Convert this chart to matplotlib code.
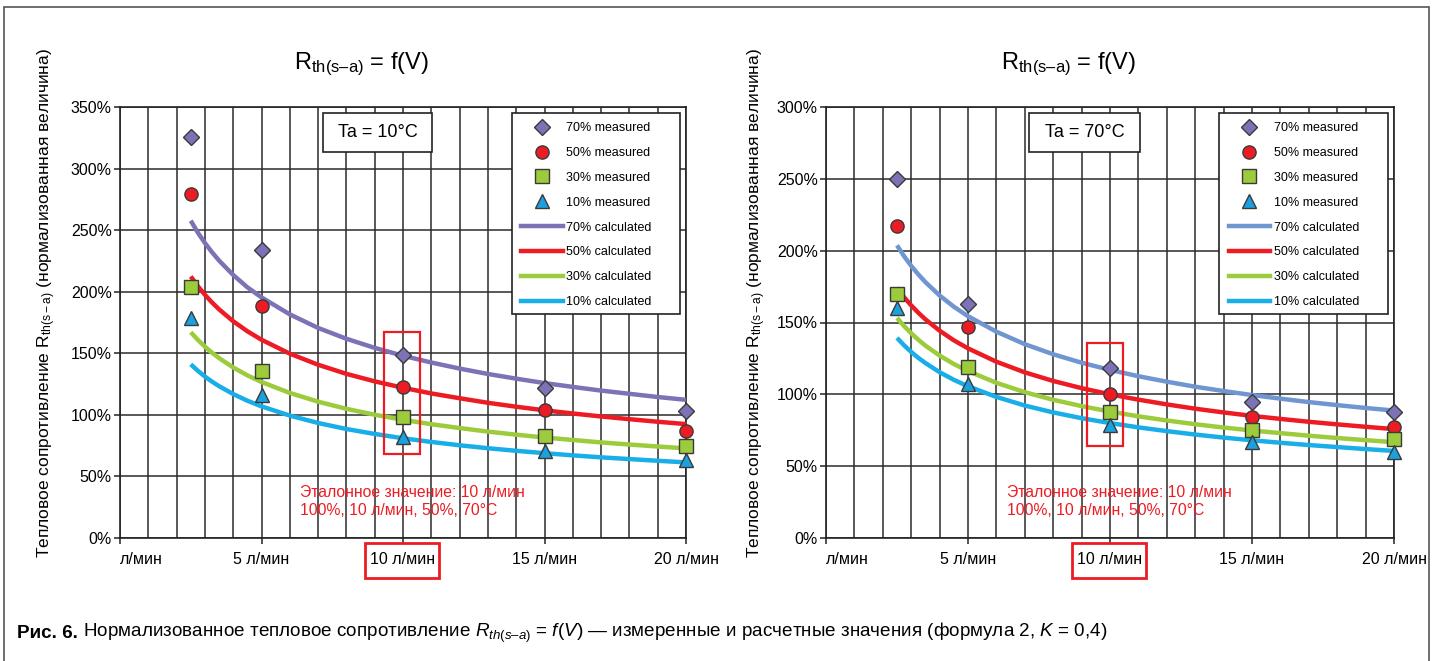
import matplotlib
matplotlib.use('Agg')
import matplotlib.pyplot as plt
from matplotlib.lines import Line2D
from matplotlib.patches import Rectangle
from matplotlib import font_manager

plt.rcParams['font.family'] = ['Liberation Sans', 'DejaVu Sans']
plt.rcParams['mathtext.fontset'] = 'custom'
plt.rcParams['mathtext.rm'] = 'Liberation Sans'

_names = {f.name for f in font_manager.fontManager.ttflist}
CAPTION_FONT = 'Liberation Sans Narrow' if 'Liberation Sans Narrow' in _names else 'Liberation Sans'
plt.rcParams['mathtext.it'] = CAPTION_FONT + ':italic'

# расход, л/мин
v_meas = [2.5, 5, 10, 15, 20]
v_calc = [2.5, 2.75, 3, 3.25, 3.5, 4, 4.5, 5, 6, 7, 8, 9, 10,
          11, 12, 13, 14, 15, 16, 17, 18, 19, 20]

# Ta = 10°C, измерения, %
m10_70 = [326, 234, 149, 122, 103]
m10_50 = [279, 188, 123, 104, 87]
m10_30 = [204, 136, 98, 83, 75]
m10_10 = [179, 116, 82, 71, 63]
# Ta = 10°C, расчет, %
c10_70 = [257.7, 248.0, 239.6, 232.1, 225.3, 213.6, 203.6, 195.4, 181.6, 170.6, 161.8, 154.4,
          148.0, 142.5, 137.6, 133.2, 129.4, 125.8, 122.7, 119.7, 117.1, 114.5, 112.2]
c10_50 = [212.4, 204.5, 197.5, 191.3, 185.7, 176.0, 167.9, 161.0, 149.7, 140.7, 133.3, 127.2,
          122.0, 117.4, 113.5, 109.8, 106.6, 103.7, 101.1, 98.7, 96.5, 94.4, 92.5]
c10_30 = [167.1, 160.9, 155.4, 150.5, 146.1, 138.5, 132.1, 126.7, 117.8, 110.7, 104.9, 100.1,
          96.0, 92.4, 89.3, 86.4, 83.9, 81.6, 79.6, 77.6, 75.9, 74.3, 72.8]
c10_10 = [141.0, 135.8, 131.1, 127.0, 123.3, 116.9, 111.5, 106.9, 99.4, 93.4, 88.5, 84.5,
          81.0, 78.0, 75.3, 72.9, 70.8, 68.9, 67.1, 65.5, 64.1, 62.7, 61.4]

# Ta = 70°C, измерения, %
m70_70 = [250, 163, 118, 95, 88]
m70_50 = [217, 147, 100, 84, 77]
m70_30 = [170, 119, 88, 75, 69]
m70_10 = [160, 107, 79, 67, 60]
# Ta = 70°C, расчет, %
c70_70 = [203.7, 196.1, 189.4, 183.5, 178.1, 168.8, 161.0, 154.4, 143.6, 134.9, 127.9, 122.0,
          117.0, 112.6, 108.8, 105.3, 102.3, 99.5, 97.0, 94.6, 92.5, 90.5, 88.7]
c70_50 = [174.1, 167.6, 161.9, 156.8, 152.2, 144.3, 137.6, 132.0, 122.7, 115.3, 109.3, 104.3,
          100.0, 96.3, 93.0, 90.0, 87.4, 85.0, 82.9, 80.9, 79.1, 77.4, 75.8]
c70_30 = [153.2, 147.5, 142.5, 138.0, 133.9, 127.0, 121.1, 116.2, 108.0, 101.5, 96.2, 91.8,
          88.0, 84.7, 81.8, 79.2, 76.9, 74.8, 73.0, 71.2, 69.6, 68.1, 66.7]
c70_10 = [139.3, 134.1, 129.5, 125.4, 121.8, 115.4, 110.1, 105.6, 98.2, 92.2, 87.4, 83.4,
          80.0, 77.0, 74.4, 72.0, 69.9, 68.0, 66.3, 64.7, 63.3, 61.9, 60.6]

x_ticks = [0, 5, 10, 15, 20]
x_labels = ['л/мин', '5 л/мин', '10 л/мин', '15 л/мин', '20 л/мин']
ref_note = 'Эталонное значение: 10 л/мин\n100%, 10 л/мин, 50%, 70°C'

PURPLE = '#7b73b6'
BLUE70 = '#7096d1'
RED = '#ed1c24'
GREEN = '#9ccb3b'
CYAN_M = '#1ba1dd'
CYAN_L = '#19aee8'
EDGE = '#3a3a3a'
GRID = '#2b2b2b'


def draw_panel(ax, ymax, meas, calc, color70, ta_text, ref_box):
    m70, m50, m30, m10 = meas
    c70, c50, c30, c10 = calc

    ax.set_xlim(0, 20)
    ax.set_ylim(0, ymax)
    ax.set_yticks(range(0, ymax + 1, 50))
    ax.set_yticklabels([f'{t}%' for t in range(0, ymax + 1, 50)])
    ax.set_xticks(x_ticks)
    ax.set_xticklabels(x_labels)
    ax.get_xticklabels()[0].set_ha('left')
    ax.set_xticks(range(0, 21), minor=True)
    ax.tick_params(axis='both', which='major', labelsize=11.5, length=4, width=1.1, color='#222')
    ax.tick_params(axis='x', which='major', pad=6)
    ax.tick_params(axis='y', which='major', pad=2)
    ax.tick_params(axis='x', which='minor', length=0)
    ax.grid(which='both', axis='x', color=GRID, lw=1.1)
    ax.grid(which='major', axis='y', color=GRID, lw=1.1)
    ax.set_axisbelow(True)
    for s in ax.spines.values():
        s.set_color('#222')
        s.set_linewidth(1.2)

    lw = 3.2
    ln = dict(lw=lw, zorder=3, solid_capstyle='butt', solid_joinstyle='round')
    ax.plot(v_calc, c70, color=color70, **ln)
    ax.plot(v_calc, c50, color=RED, **ln)
    ax.plot(v_calc, c30, color=GREEN, **ln)
    ax.plot(v_calc, c10, color=CYAN_L, **ln)

    mk = dict(ls='none', mec=EDGE, mew=1.0, zorder=5, clip_on=False)
    ax.plot(v_meas, m70, marker='D', ms=8.5, mfc=PURPLE, **mk)
    ax.plot(v_meas, m50, marker='o', ms=9.5, mfc=RED, **mk)
    ax.plot(v_meas, m30, marker='s', ms=9.5, mfc=GREEN, **mk)
    ax.plot(v_meas, m10, marker='^', ms=10, mfc=CYAN_M, **mk)

    # эталонная точка 10 л/мин
    x0, x1, y0, y1 = ref_box
    ax.add_patch(Rectangle((x0, y0), x1 - x0, y1 - y0, fill=False,
                           ec=RED, lw=1.6, zorder=6))
    ax.add_patch(Rectangle((0.433, -0.093), 0.131, 0.081, transform=ax.transAxes,
                           fill=False, ec=RED, lw=2.0, clip_on=False, zorder=6))

    ax.text(0.318, 0.124, ref_note, transform=ax.transAxes, color=RED,
            fontsize=11.3, va='top', ha='left', linespacing=1.3, zorder=6)

    # температура
    ax.add_patch(Rectangle((0.358, 0.896), 0.194, 0.09, transform=ax.transAxes,
                           fc='white', ec='#222', lw=1.2, zorder=6))
    ax.text(0.455, 0.941, ta_text, transform=ax.transAxes, fontsize=13,
            ha='center', va='center', zorder=7)

    # легенда
    ax.add_patch(Rectangle((0.692, 0.519), 0.297, 0.467, transform=ax.transAxes,
                           fc='white', ec='#222', lw=1.2, zorder=6))
    handles = [
        Line2D([], [], ls='none', marker='D', ms=8.5, mfc=PURPLE, mec=EDGE),
        Line2D([], [], ls='none', marker='o', ms=9.5, mfc=RED, mec=EDGE),
        Line2D([], [], ls='none', marker='s', ms=9.5, mfc=GREEN, mec=EDGE),
        Line2D([], [], ls='none', marker='^', ms=10, mfc=CYAN_M, mec=EDGE),
        Line2D([], [], color=color70, lw=lw),
        Line2D([], [], color=RED, lw=lw),
        Line2D([], [], color=GREEN, lw=lw),
        Line2D([], [], color=CYAN_L, lw=lw),
    ]
    labels = ['70% measured', '50% measured', '30% measured', '10% measured',
              '70% calculated', '50% calculated', '30% calculated', '10% calculated']
    leg = ax.legend(handles, labels, loc='upper left', bbox_to_anchor=(0.709, 0.965),
                    frameon=False, fontsize=9, handlelength=3.3, handletextpad=0.3,
                    labelspacing=1.03, borderpad=0, borderaxespad=0, numpoints=1)
    leg.set_zorder(8)


fig = plt.figure(figsize=(14.34, 6.61), dpi=100)
W, H = 1434, 661

ax1 = fig.add_axes([120 / W, (H - 538) / H, 566 / W, 431 / H])
ax2 = fig.add_axes([826 / W, (H - 538) / H, 568 / W, 431 / H])

draw_panel(ax1, 350, (m10_70, m10_50, m10_30, m10_10),
           (c10_70, c10_50, c10_30, c10_10), PURPLE, 'Ta = 10°C',
           (9.33, 10.6, 68, 167))
draw_panel(ax2, 300, (m70_70, m70_50, m70_30, m70_10),
           (c70_70, c70_50, c70_30, c70_10), BLUE70, 'Ta = 70°C',
           (9.19, 10.46, 64, 136))

title = 'R$_{\\mathrm{th(s–a)}}$ = f(V)'
fig.text(362 / W, 1 - 64 / H, title, fontsize=17, ha='center', va='center')
fig.text(1069 / W, 1 - 64 / H, title, fontsize=17, ha='center', va='center')

ylab = 'Тепловое сопротивление R$_{\\mathrm{th(s-a)}}$ (нормализованная величина)'
fig.text(47 / W, 1 - 303 / H, ylab, fontsize=12.5, rotation=90, ha='center', va='center')
fig.text(757 / W, 1 - 303 / H, ylab, fontsize=12.5, rotation=90, ha='center', va='center')

# рамка
fig.patches.append(Rectangle((4 / W, -0.05), 1425 / W, (H - 7) / H + 0.05,
                             transform=fig.transFigure, fill=False, ec='#555', lw=1.2))

# подпись к рисунку
cap_size = 15.5 if CAPTION_FONT != 'Liberation Sans' else 13.6
t1 = fig.text(17 / W, 1 - 633 / H, 'Рис. 6.', fontsize=cap_size, fontweight='bold',
              family=CAPTION_FONT, ha='left', va='center')
renderer = fig.canvas.get_renderer()
bb = t1.get_window_extent(renderer)
cap = ('Нормализованное тепловое сопротивление $R_{th(s–a)}$ = $f(V)$ — '
       'измеренные и расчетные значения (формула 2, $K$ = 0,4)')
fig.text((bb.x1 + 5) / W, 1 - 633 / H, cap, fontsize=cap_size, family=CAPTION_FONT,
         ha='left', va='center')

fig.savefig('out.png', dpi=100)
